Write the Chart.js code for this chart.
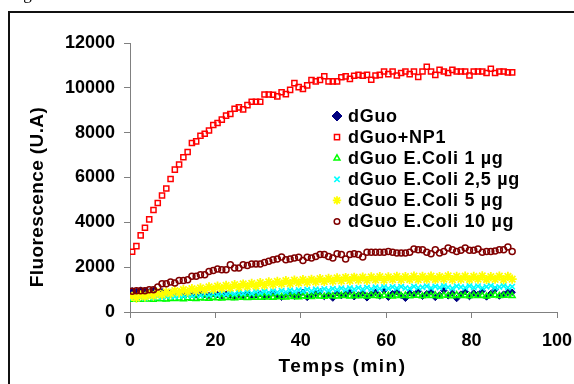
<!DOCTYPE html>
<html>
<head>
<meta charset="utf-8">
<script src="https://cdn.jsdelivr.net/npm/chart.js@4.4.1/dist/chart.umd.min.js"></script>
<style>
  html, body { margin: 0; padding: 0; background: #fff; overflow: hidden; }
  #wrap { position: relative; width: 574px; height: 384px; overflow: hidden; }
  #chart { display: block; }
  #fig { position: absolute; left: 9px; top: -15px; font: 17px/1 "Liberation Serif", "Times New Roman", serif; color: #000; }
</style>
</head>
<body>
<div id="wrap">
  <canvas id="chart" width="574" height="384"></canvas>
  <div id="fig">Fig</div>
</div>
<script>
// fluorescence curves

const times = [
  0.5, 1.5, 2.5, 3.5, 4.5, 5.5, 6.5, 7.5, 8.5, 9.5,
  10.5, 11.5, 12.5, 13.5, 14.5, 15.5, 16.5, 17.5, 18.5, 19.5,
  20.5, 21.5, 22.5, 23.5, 24.5, 25.5, 26.5, 27.5, 28.5, 29.5,
  30.5, 31.5, 32.5, 33.5, 34.5, 35.5, 36.5, 37.5, 38.5, 39.5,
  40.5, 41.5, 42.5, 43.5, 44.5, 45.5, 46.5, 47.5, 48.5, 49.5,
  50.5, 51.5, 52.5, 53.5, 54.5, 55.5, 56.5, 57.5, 58.5, 59.5,
  60.5, 61.5, 62.5, 63.5, 64.5, 65.5, 66.5, 67.5, 68.5, 69.5,
  70.5, 71.5, 72.5, 73.5, 74.5, 75.5, 76.5, 77.5, 78.5, 79.5,
  80.5, 81.5, 82.5, 83.5, 84.5, 85.5, 86.5, 87.5, 88.5, 89.5
];

const seriesNames = [
  'dGuo', 'dGuo+NP1', 'dGuo E.Coli 1 µg',
  'dGuo E.Coli 2,5 µg', 'dGuo E.Coli 5 µg', 'dGuo E.Coli 10 µg'
];

const dGuo = [
  950, 920, 980, 940, 900, 960, 880, 910, 850, 870,
  820, 860, 790, 840, 800, 760, 830, 780, 740, 810,
  770, 720, 800, 750, 690, 780, 730, 820, 700, 760,
  810, 680, 770, 850, 720, 660, 790, 830, 700, 760,
  880, 650, 740, 820, 900, 690, 780, 620, 860, 730,
  800, 910, 680, 760, 840, 630, 790, 880, 710, 950,
  660, 820, 900, 740, 610, 850, 780, 930, 700, 820,
  890, 650, 760, 960, 720, 840, 600, 800, 910, 690,
  850, 780, 940, 670, 830, 990, 710, 800, 870, 880
];

const dGuoNP1 = [
  2690, 2940, 3420, 3760, 4130, 4550, 4860, 5200, 5510, 5930,
  6350, 6580, 6900, 7140, 7540, 7610, 7860, 7950, 8100, 8340,
  8430, 8580, 8760, 8830, 9070, 9130, 9040, 9230, 9380, 9380,
  9380, 9700, 9700, 9690, 9620, 9800, 9720, 9910, 10210, 10030,
  9950, 10110, 10350, 10290, 10350, 10520, 10290, 10290, 10290, 10470,
  10510, 10400, 10540, 10580, 10540, 10580, 10360, 10550, 10580, 10730,
  10610, 10730, 10550, 10660, 10730, 10610, 10730, 10480, 10730, 10940,
  10730, 10580, 10800, 10730, 10660, 10800, 10730, 10730, 10730, 10550,
  10730, 10730, 10730, 10660, 10850, 10660, 10730, 10730, 10690, 10690
];

const ecoli1 = [
  560, 580, 550, 590, 570, 560, 600, 580, 570, 600,
  590, 610, 580, 620, 600, 590, 630, 610, 600, 640,
  620, 610, 650, 630, 620, 660, 640, 630, 670, 650,
  640, 680, 660, 650, 690, 670, 660, 700, 680, 670,
  710, 690, 680, 720, 700, 690, 730, 710, 700, 740,
  720, 700, 740, 710, 730, 700, 750, 720, 710, 740,
  730, 700, 750, 720, 740, 710, 750, 730, 710, 740,
  720, 750, 700, 740, 730, 710, 760, 720, 740, 710,
  750, 720, 730, 700, 740, 760, 720, 730, 750, 720
];

const ecoli25 = [
  640, 600, 670, 620, 690, 650, 710, 660, 700, 730,
  690, 750, 710, 770, 720, 790, 740, 800, 760, 820,
  770, 840, 790, 860, 800, 870, 820, 890, 830, 900,
  850, 920, 860, 930, 880, 950, 890, 970, 910, 980,
  930, 1000, 940, 1010, 960, 1030, 970, 1040, 990, 1060,
  1000, 1070, 1010, 1080, 1020, 1090, 1030, 1100, 1040, 1110,
  1050, 1120, 1060, 1130, 1070, 1050, 1140, 1080, 1100, 1150,
  1070, 1140, 1090, 1160, 1100, 1060, 1150, 1110, 1080, 1160,
  1090, 1150, 1070, 1130, 1170, 1080, 1120, 1160, 1090, 1130
];

const ecoli5 = [
  700, 620, 760, 680, 800, 720, 850, 760, 900, 820,
  950, 860, 1000, 900, 1040, 940, 1080, 980, 1120, 1010,
  1150, 1040, 1190, 1070, 1220, 1100, 1250, 1130, 1280, 1160,
  1310, 1190, 1340, 1220, 1370, 1250, 1400, 1270, 1420, 1300,
  1440, 1320, 1460, 1340, 1490, 1360, 1500, 1380, 1520, 1390,
  1540, 1400, 1550, 1420, 1560, 1410, 1570, 1430, 1580, 1420,
  1570, 1440, 1590, 1430, 1580, 1450, 1600, 1440, 1590, 1460,
  1600, 1450, 1580, 1470, 1610, 1440, 1590, 1460, 1600, 1450,
  1590, 1470, 1610, 1450, 1580, 1460, 1600, 1440, 1590, 1470
];

const ecoli10 = [
  930, 950, 950, 950, 990, 990, 1110, 1260, 1260, 1340,
  1290, 1410, 1410, 1440, 1590, 1590, 1660, 1660, 1810, 1850,
  1920, 1890, 1890, 2110, 1960, 1960, 2110, 2070, 2140, 2140,
  2140, 2210, 2260, 2330, 2360, 2450, 2330, 2360, 2410, 2440,
  2300, 2440, 2410, 2480, 2560, 2560, 2480, 2410, 2600, 2560,
  2360, 2560, 2600, 2560, 2450, 2660, 2660, 2660, 2660, 2660,
  2700, 2660, 2630, 2630, 2630, 2660, 2810, 2780, 2780, 2660,
  2600, 2780, 2630, 2700, 2850, 2780, 2700, 2750, 2850, 2750,
  2750, 2810, 2660, 2700, 2700, 2720, 2780, 2780, 2900, 2700
];

const xTicks = [0, 20, 40, 60, 80, 100];
const yTicks = [0, 2000, 4000, 6000, 8000, 10000, 12000];

const xTitle = 'Temps (min)';
const yTitle = 'Fluorescence (U.A)';

// marker look per series (Excel defaults)
const markers = [
  { style: 'rectRot',  color: '#000080', fill: '#000080',       radius: 3.2, legendRadius: 5,   width: 1 },
  { style: 'rect',     color: '#FF0000', fill: 'rgba(0,0,0,0)', radius: 3.6, legendRadius: 3.6, width: 1.5 },
  { style: 'triangle', color: '#00FF00', fill: 'rgba(0,0,0,0)', radius: 3.4, legendRadius: 3.4, width: 1.5 },
  { style: 'crossRot', color: '#00FFFF', fill: 'rgba(0,0,0,0)', radius: 3.8, legendRadius: 3.8, width: 1.6 },
  { style: 'star',     color: '#FFFF00', fill: 'rgba(0,0,0,0)', radius: 4.6, legendRadius: 4.2, width: 1.8 },
  { style: 'circle',   color: '#800000', fill: 'rgba(0,0,0,0)', radius: 3,   legendRadius: 2.8, width: 1.5 }
];

const FONT = '"Liberation Sans", Arial, sans-serif';
const AXIS = '#808080';

const seriesValues = [dGuo, dGuoNP1, ecoli1, ecoli25, ecoli5, ecoli10];

const datasets = seriesValues.map((vals, i) => ({
  label: seriesNames[i],
  data: vals.map((v, k) => ({ x: times[k], y: v })),
  pointStyle: markers[i].style,
  pointRadius: markers[i].radius,
  pointBorderWidth: markers[i].width,
  borderColor: markers[i].color,
  backgroundColor: markers[i].fill,
  showLine: false,
  order: seriesValues.length - i   // Excel draws the last series on top
}));

function spacedText(ctx, text, x, y, spacing) {
  ctx.letterSpacing = spacing + 'px';
  ctx.fillText(text, x, y);
  ctx.letterSpacing = '0px';
}

// outer frame, axis titles and the legend inside the plot
const decor = {
  id: 'decor',
  beforeDraw(chart) {
    const ctx = chart.ctx;
    const { left, right } = chart.chartArea;
    ctx.save();
    ctx.strokeStyle = '#111';
    ctx.lineWidth = 2;
    ctx.beginPath();
    ctx.moveTo(9, 400);
    ctx.lineTo(9, 12);
    ctx.lineTo(600, 12);
    ctx.stroke();

    ctx.fillStyle = '#000';
    ctx.font = 'bold 19px ' + FONT;
    ctx.textAlign = 'center';
    ctx.textBaseline = 'middle';
    spacedText(ctx, xTitle, (left + right) / 2 - 1, 367, 1.5);

    ctx.translate(38, 197);
    ctx.rotate(-Math.PI / 2);
    spacedText(ctx, yTitle, 0, 0, 0.4);
    ctx.restore();
  },
  afterDraw(chart) {
    const ctx = chart.ctx;
    const { left, top } = chart.chartArea;
    ctx.save();
    chart.data.datasets.forEach((ds, i) => {
      const m = markers[i];
      const y = top + 73 + i * 21.1;
      ctx.fillStyle = m.fill;
      ctx.strokeStyle = m.color;
      ctx.lineWidth = m.width;
      Chart.helpers.drawPoint(ctx, {
        pointStyle: m.style, radius: m.legendRadius, borderWidth: m.width, rotation: 0
      }, left + 207, y);
      ctx.fillStyle = '#000';
      ctx.font = 'bold 18px ' + FONT;
      ctx.textAlign = 'left';
      ctx.textBaseline = 'middle';
      spacedText(ctx, ds.label, left + 218, y + 1, 0.7);
    });
    ctx.restore();
  }
};

new Chart(document.getElementById('chart'), {
  type: 'scatter',
  data: { datasets },
  options: {
    responsive: false,
    animation: false,
    devicePixelRatio: 1,
    layout: { padding: { top: 43, right: 17, bottom: 0, left: 0 } },
    plugins: {
      legend:  { display: false },
      tooltip: { enabled: false }
    },
    scales: {
      x: {
        type: 'linear',
        min: xTicks[0],
        max: xTicks[xTicks.length - 1],
        afterBuildTicks: s => { s.ticks = xTicks.map(v => ({ value: v })); },
        afterFit: s => { s.height = 72; s.paddingLeft = 0; s.paddingRight = 0; },
        grid:   { drawOnChartArea: false, tickLength: 6, tickColor: AXIS },
        border: { color: AXIS, width: 1 },
        ticks:  {
          padding: 12, color: '#000', maxRotation: 0,
          font: { family: FONT, size: 18, weight: 'bold' },
          callback: v => String(v)
        }
      },
      y: {
        min: yTicks[0],
        max: yTicks[yTicks.length - 1],
        afterBuildTicks: s => { s.ticks = yTicks.map(v => ({ value: v })); },
        afterFit: s => { s.width = 130; s.paddingTop = 0; s.paddingBottom = 0; },
        grid:   { drawOnChartArea: false, tickLength: 6, tickColor: AXIS },
        border: { color: AXIS, width: 1 },
        ticks:  {
          padding: 9, color: '#000',
          font: { family: FONT, size: 18, weight: 'bold' },
          callback: v => String(v)
        }
      }
    }
  },
  plugins: [decor]
});
</script>
</body>
</html>
